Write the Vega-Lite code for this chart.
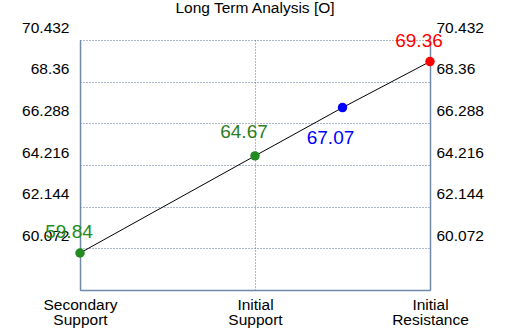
{
  "$schema": "https://vega.github.io/schema/vega-lite/v6.json",
  "width": 350,
  "height": 250,
  "autosize": {"type": "none"},
  "padding": {"left": 80, "top": 40, "right": 80, "bottom": 40},
  "background": "white",
  "title": {"text": "Long Term Analysis [O]", "font": "Liberation Sans", "fontSize": 15.5, "fontWeight": "normal", "color": "black", "anchor": "middle", "frame": "group", "offset": 4},
  "config": {
    "view": {"stroke": null},
    "font": "Liberation Sans"
  },
  "data": {"values": [
    {"pos": 0, "value": 59.84, "label": "59.84", "kind": "ss"},
    {"pos": 1, "value": 64.67, "label": "64.67", "kind": "is"},
    {"pos": 1.5, "value": 67.07, "label": "67.07", "kind": "cur"},
    {"pos": 2, "value": 69.36, "label": "69.36", "kind": "ir"}
  ]},
  "encoding": {
    "x": {"field": "pos", "type": "quantitative", "scale": {"domain": [0, 2], "nice": false, "zero": false},
      "axis": {"title": null, "values": [0, 1, 2], "grid": true, "gridColor": "#5a7090", "gridDash": [1, 2], "gridWidth": 1,
        "domainColor": "#7088a8", "domainWidth": 1.5, "ticks": false, "labelPadding": 7, "labelFontSize": 15.5, "labelColor": "black",
        "labelFlush": false, "labelOverlap": false, "labelLineHeight": 15, "labelBaseline": "top",
        "labelExpr": "datum.value == 0 ? ['Secondary', 'Support'] : datum.value == 1 ? ['Initial', 'Support'] : ['Initial', 'Resistance']"}}
  },
  "layer": [
    {
      "mark": {"type": "line", "color": "black", "strokeWidth": 1},
      "encoding": {
        "y": {"field": "value", "type": "quantitative", "scale": {"domain": [58, 70.432], "nice": false, "zero": false},
          "axis": {"title": null, "orient": "left", "values": [60.072, 62.144, 64.216, 66.288, 68.36, 70.432], "format": ".5~g",
            "grid": true, "gridColor": "#5a7090", "gridDash": [1, 2], "gridWidth": 1, "domainColor": "#7088a8", "domainWidth": 1.5,
            "ticks": false, "labelPadding": 11, "labelFontSize": 15.5, "labelColor": "black", "labelOffset": -13, "labelOverlap": false, "labelFlush": false}}
      }
    },
    {
      "mark": {"type": "circle", "size": 90, "opacity": 1},
      "encoding": {
        "y": {"field": "value", "type": "quantitative",
          "axis": {"title": null, "orient": "right", "values": [60.072, 62.144, 64.216, 66.288, 68.36, 70.432], "format": ".5~g",
            "grid": false, "domainColor": "#7088a8", "domainWidth": 1.5,
            "ticks": false, "labelPadding": 6, "labelFontSize": 15.5, "labelColor": "black", "labelOffset": -13, "labelOverlap": false, "labelFlush": false}},
        "color": {"field": "kind", "type": "nominal", "legend": null,
          "scale": {"domain": ["ss", "is", "cur", "ir"], "range": ["#228b22", "#228b22", "#0000ff", "#ff0000"]}}
      }
    },
    {
      "transform": [{"filter": "datum.kind == 'ss'"}],
      "mark": {"type": "text", "fontSize": 19, "dx": -11, "dy": -21, "color": "#228b22"},
      "encoding": {"y": {"field": "value", "type": "quantitative", "axis": null}, "text": {"field": "label"}}
    },
    {
      "transform": [{"filter": "datum.kind == 'is'"}],
      "mark": {"type": "text", "fontSize": 19, "dx": -11, "dy": -24, "color": "#2e7d1e"},
      "encoding": {"y": {"field": "value", "type": "quantitative", "axis": null}, "text": {"field": "label"}}
    },
    {
      "transform": [{"filter": "datum.kind == 'cur'"}],
      "mark": {"type": "text", "fontSize": 19, "dx": -12, "dy": 30, "color": "#0000ff"},
      "encoding": {"y": {"field": "value", "type": "quantitative", "axis": null}, "text": {"field": "label"}}
    },
    {
      "transform": [{"filter": "datum.kind == 'ir'"}],
      "mark": {"type": "text", "fontSize": 19, "dx": -11, "dy": -21, "color": "#ff0000"},
      "encoding": {"y": {"field": "value", "type": "quantitative", "axis": null}, "text": {"field": "label"}}
    }
  ],
  "resolve": {"axis": {"y": "independent"}}
}
